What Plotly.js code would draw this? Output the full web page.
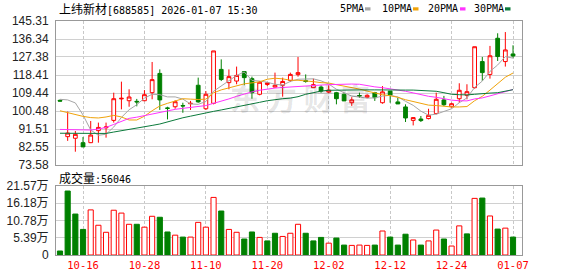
<!DOCTYPE html>
<html>
<head>
<meta charset="utf-8">
<script src="https://cdn.plot.ly/plotly-3.0.1.min.js"></script>
<style>
html,body{margin:0;padding:0;background:#fff;}
#chart{width:578px;height:276px;}
</style>
</head>
<body>
<div id="chart"></div>
<script>
// ---- data ----
const dates = [
 "2025-10-13","2025-10-14","2025-10-15","2025-10-16","2025-10-17","2025-10-20","2025-10-21","2025-10-22","2025-10-23","2025-10-24",
 "2025-10-27","2025-10-28","2025-10-29","2025-10-30","2025-10-31","2025-11-04","2025-11-05","2025-11-06","2025-11-07","2025-11-10",
 "2025-11-11","2025-11-12","2025-11-13","2025-11-14","2025-11-17","2025-11-18","2025-11-19","2025-11-20","2025-11-21","2025-11-24",
 "2025-11-25","2025-11-26","2025-11-27","2025-11-28","2025-12-01","2025-12-02","2025-12-03","2025-12-04","2025-12-05","2025-12-08",
 "2025-12-09","2025-12-10","2025-12-11","2025-12-12","2025-12-15","2025-12-16","2025-12-17","2025-12-18","2025-12-19","2025-12-22",
 "2025-12-23","2025-12-24","2025-12-25","2025-12-26","2025-12-29","2025-12-30","2025-12-31","2026-01-05","2026-01-06","2026-01-07"
];
const open  = [105.8,87.7,86.9,84.7,84.7,90.7,92.1,95.8,106.5,105.6, 105.3,105.6,109.6,119.2,102.0,102.6,103.2,104.1,113.3,101.6,
               104.3,121.2,114.6,115.4,120.1,116.6,108.8,113.7,112.4,113.3, 115.7,118.6,115.6,112.1,112.4,109.9,109.6,108.8,104.6,108.2,
               107.3,109.6,104.6,110.4,105.0,102.5,95.8,96.5,96.7,99.2, 106.0,102.6,106.6,108.3,112.1,125.1,118.7,136.7,125.1,128.9];
const high  = [106.2,100.2,90.5,87.5,95.5,94.7,94.7,109.6,115.1,111.3, 106.5,110.9,124.9,121.2,102.6,105.8,104.6,105.5,117.1,110.4,
               130.4,126.2,121.2,122.6,120.1,117.6,115.4,114.6,119.6,117.1, 119.6,127.4,118.7,116.6,113.3,113.3,110.0,109.2,107.4,109.6,
               108.8,110.0,112.9,110.4,107.1,103.8,97.4,98.0,101.6,109.6, 108.0,104.6,114.3,113.8,132.5,127.4,132.9,139.2,139.8,133.2];
const low   = [105.3,85.6,80.2,82.5,84.5,84.7,87.2,94.7,101.3,102.6, 102.8,105.4,106.3,101.0,96.3,101.6,99.6,101.0,104.6,101.0,
               103.8,115.4,111.3,113.8,113.3,106.6,108.3,112.9,112.2,107.6, 114.9,117.6,114.6,112.0,109.6,109.3,103.8,105.5,103.0,107.0,
               106.8,105.5,104.1,104.6,104.0,95.0,93.3,95.0,96.3,98.8, 103.0,102.2,104.6,106.3,111.6,115.4,116.6,125.4,122.6,127.0];
const close = [105.4,89.5,88.85,82.6,88.5,92.3,92.5,106.6,106.8,107.45, 105.0,108.6,116.1,106.0,101.8,105.1,103.0,104.3,105.0,108.8,
               130.4,116.2,117.6,118.2,117.1,109.6,114.8,114.5,113.3,115.2, 118.7,119.6,115.2,113.6,110.4,110.9,106.6,105.5,106.0,108.0,
               108.3,107.1,110.0,108.3,104.0,97.0,97.2,95.7,98.3,106.3, 103.6,104.1,110.8,110.1,132.5,119.6,128.0,127.6,130.9,127.9];
const prevCloseBeforeFirst = 106.0;
// volume in lots (手)
const volume = [12500,200000,128000,80000,141000,93000,71000,140000,131000,96000,
                96000,87000,121000,118000,72000,62000,56000,56000,102000,87000,
                180000,137500,80000,71000,50000,72000,55000,44000,68000,58000,
                68000,96000,68000,44000,55000,37000,53000,31000,30000,31000,
                30000,31000,75000,56000,31000,65000,47000,31000,44000,78000,
                50000,28000,91000,66000,177000,178000,122000,81000,84000,56046];
const ma5  = [106.3,106.0,104.5,98.5,91.0,88.4,88.9,92.5,97.3,101.1, 103.6,106.9,108.8,108.6,107.5,107.5,106.4,104.0,103.8,105.2,
              110.3,112.9,115.6,118.2,119.9,115.7,115.4,114.8,113.8,113.4, 115.2,116.3,116.4,116.5,115.5,113.9,111.3,109.4,107.9,107.4,
              106.9,107.0,107.9,108.3,107.5,105.3,103.3,100.4,98.4,98.9, 100.2,101.6,104.6,107.0,112.2,115.4,120.2,123.4,127.6,126.8];
const ma10 = [100.6,99.6,98.5,97.8,97.2,97.0,97.5,98.3,97.5,96.0, 96.0,97.9,100.6,103.0,104.3,105.6,106.6,106.4,106.2,106.4,
              109.5,111.0,112.0,113.0,114.0,114.5,115.0,116.3,116.8,116.5, 115.8,115.8,115.6,115.1,114.6,114.4,113.6,112.9,112.2,111.4,
              110.4,109.4,108.6,108.1,107.3,106.1,105.1,104.2,103.4,103.2, 102.8,102.5,102.5,102.7,105.6,107.8,110.9,114.1,117.3,119.4];
const ma20 = [91.3,91.3,91.2,91.1,91.0,91.5,92.3,93.8,95.5,96.8, 97.4,98.2,99.2,100.0,100.6,101.3,101.8,102.3,102.8,103.2,
              104.3,105.3,106.5,107.8,109.0,110.0,110.8,111.4,111.9,112.2, 112.5,112.8,112.9,113.1,113.4,113.6,113.8,113.9,113.9,113.8,
              113.0,112.5,112.1,111.6,111.0,110.3,109.5,108.6,107.8,107.3, 106.6,105.9,105.6,105.5,106.5,107.0,108.0,109.1,110.3,111.2];
const ma30 = [89.4,89.4,89.3,89.3,89.2,89.2,89.3,90.0,90.6,91.3, 92.0,92.7,93.3,94.0,95.0,96.3,97.1,97.9,98.8,99.6,
              100.3,101.0,101.7,102.4,103.2,104.0,104.8,105.6,106.2,106.6, 106.9,107.6,108.8,109.6,110.4,110.8,110.9,110.9,110.9,110.9,
              111.0,111.0,110.9,110.9,110.9,110.9,110.9,110.8,110.6,110.3, 109.6,108.8,108.6,108.5,108.8,109.2,109.4,109.6,110.4,111.1];
const priceTicks = [73.58,82.55,91.51,100.48,109.44,118.41,127.38,136.34,145.31];
const priceTickText = ["73.58","82.55","91.51","100.48","109.44","118.41","127.38","136.34","145.31"];
const volTicks = [0,53925,107850,161775,215700];
const volTickText = ["0","5.39万","10.78万","16.18万","21.57万"];
const labelDates = ["2025-10-16","2025-10-28","2025-11-10","2025-11-20","2025-12-02","2025-12-12","2025-12-24","2026-01-07"];
const labelText  = ["10-16","10-28","11-10","11-20","12-02","12-12","12-24","01-07"];
const maNames  = ["5PMA","10PMA","20PMA","30PMA"];
const maColors = ["#a6a6a6","#f0a30a","#ff33ff","#0b7a3b"];
const stockTitle = "上纬新材";
const stockInfo = "[688585] 2026-01-07 15:30";
const volLabel = "成交量";
const volInfo = ":56046";

// ---- build ----
const RED = "#ff0000", GREEN = "#008000";
const volUp = close.map((c,i)=> c >= (i===0 ? prevCloseBeforeFirst : close[i-1]));
const volFill = volUp.map(u => u ? "#ffffff" : GREEN);
const volLine = volUp.map(u => u ? RED : GREEN);

const traces = [
  {type:"candlestick", x:dates, open:open, high:high, low:low, close:close,
   xaxis:"x", yaxis:"y", whiskerwidth:0, hoverinfo:"skip", showlegend:false,
   increasing:{line:{color:RED,width:1}, fillcolor:"#ffffff"},
   decreasing:{line:{color:GREEN,width:1}, fillcolor:GREEN}},
  {type:"scatter", mode:"lines", x:dates, y:ma5,  xaxis:"x", yaxis:"y", line:{color:maColors[0],width:1}, hoverinfo:"skip", showlegend:false},
  {type:"scatter", mode:"lines", x:dates, y:ma10, xaxis:"x", yaxis:"y", line:{color:maColors[1],width:1}, hoverinfo:"skip", showlegend:false},
  {type:"scatter", mode:"lines", x:dates, y:ma20, xaxis:"x", yaxis:"y", line:{color:maColors[2],width:1}, hoverinfo:"skip", showlegend:false},
  {type:"scatter", mode:"lines", x:dates, y:ma30, xaxis:"x", yaxis:"y", line:{color:maColors[3],width:1}, hoverinfo:"skip", showlegend:false},
  {type:"bar", x:dates, y:volume, xaxis:"x2", yaxis:"y2", hoverinfo:"skip", showlegend:false,
   marker:{color:volFill, line:{color:volLine, width:1}}}
];

const W = 578, H = 276, L = 56, R = 522, T = 21, B = 255;
const px = v => (v - L) / (R - L);
const py = v => (B - v) / (B - T);

const gridV = {showgrid:true, gridcolor:"#c8c8c8", griddash:"3px,2px", gridwidth:1};
const annotations = [
  {xref:"paper", yref:"paper", x:px(300), y:py(97), xanchor:"center", yanchor:"middle", showarrow:false,
   text:"东 方 财 富", font:{family:"Noto Sans CJK SC", size:30, color:"rgba(0,0,0,0.11)", weight:700}},
  {xref:"paper", yref:"paper", x:px(57), y:py(9), xanchor:"left", yanchor:"middle", showarrow:false,
   text:'<span style="font-family:\'Noto Sans CJK SC\';font-size:12px">'+stockTitle+'</span>'+stockInfo,
   font:{family:"DejaVu Sans Mono", size:10, color:"#000"}},
  {xref:"paper", yref:"paper", x:px(57), y:py(177), xanchor:"left", yanchor:"middle", showarrow:false,
   text:'<span style="font-family:\'Noto Sans CJK SC\';font-size:12px">'+volLabel+'</span>'+volInfo,
   font:{family:"DejaVu Sans Mono", size:10, color:"#000"}}
];
const legX = [338,380,426,472];
const sqX = [365,413,460,505];
const shapes = [];
maNames.forEach((n,i)=>{
  annotations.push({xref:"paper", yref:"paper", x:px(legX[i]), y:py(9), xanchor:"left", yanchor:"middle", showarrow:false,
    text:n, font:{family:"DejaVu Sans Mono", size:10, color:"#000"}});
  shapes.push({type:"rect", xref:"paper", yref:"paper", x0:px(sqX[i]), x1:px(sqX[i]+5.5), y0:py(10.5), y1:py(7.3),
    fillcolor:maColors[i], line:{width:0}});
});

const layout = {
  width:W, height:H, margin:{l:L, r:W-R, t:T, b:H-B, pad:0},
  paper_bgcolor:"#fff", plot_bgcolor:"#fff", showlegend:false, hovermode:false,
  bargap:0.33, boxgap:0.3,
  xaxis:Object.assign({type:"category", range:[-0.52,60.17], domain:[0,1], anchor:"y",
    tickmode:"array", tickvals:labelDates, ticktext:labelText, showticklabels:false, ticks:"",
    showline:true, linecolor:"#999", linewidth:1, mirror:true, zeroline:false,
    rangeslider:{visible:false}, fixedrange:true}, gridV),
  xaxis2:Object.assign({type:"category", matches:"x", range:[-0.52,60.17], domain:[0,1], anchor:"y2",
    tickmode:"array", tickvals:labelDates, ticktext:labelText, showticklabels:true, ticks:"",
    tickfont:{family:"DejaVu Sans Mono", size:10.5, color:RED},
    showline:true, linecolor:"#999", linewidth:1, mirror:true, zeroline:false, fixedrange:true}, gridV),
  yaxis:{domain:[py(165),1], range:[73.58,145.31], anchor:"x", tickmode:"array", tickvals:priceTicks, ticktext:priceTickText,
    tickfont:{family:"Liberation Sans", size:12, color:"#222"}, ticks:"", ticklabelstandoff:4,
    showgrid:true, gridcolor:"#d0d0d0", gridwidth:1, showline:true, linecolor:"#999", linewidth:1, mirror:true, zeroline:false, fixedrange:true},
  yaxis2:{domain:[0,py(186)], range:[0,215700], anchor:"x2", tickmode:"array", tickvals:volTicks, ticktext:volTickText,
    tickfont:{family:"Liberation Sans, Noto Sans CJK SC", size:12, color:"#222"}, ticks:"", ticklabelstandoff:4,
    showgrid:true, gridcolor:"#d0d0d0", gridwidth:1, showline:true, linecolor:"#999", linewidth:1, mirror:true, zeroline:false, fixedrange:true},
  annotations:annotations, shapes:shapes
};

Plotly.newPlot("chart", traces, layout, {staticPlot:true, displayModeBar:false});
</script>
</body>
</html>
